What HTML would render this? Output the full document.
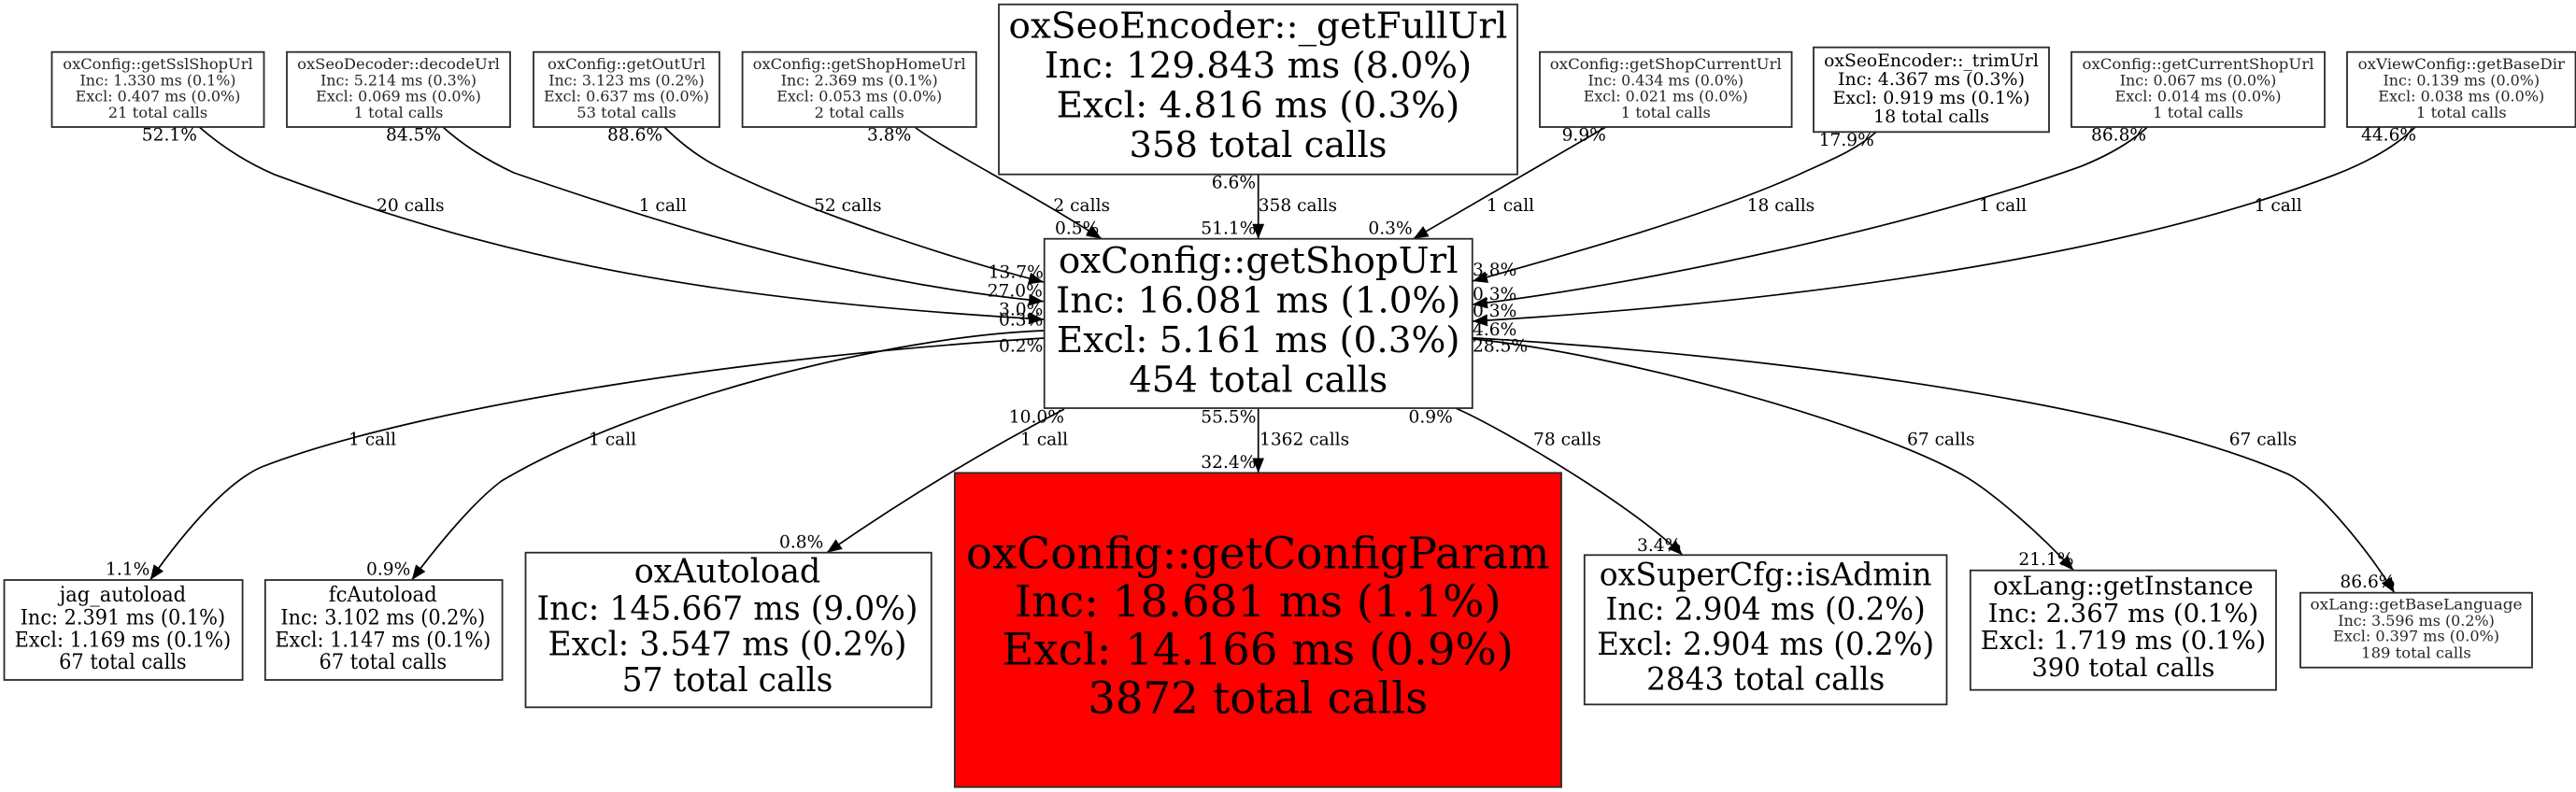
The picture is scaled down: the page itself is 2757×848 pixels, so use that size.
<!DOCTYPE html>
<html>
<head>
<meta charset="utf-8">
<title>oxConfig::getShopUrl call graph</title>
<style>
html,body{margin:0;padding:0;background:#fff;width:2757px;height:848px;overflow:hidden}
svg{display:block}
text{font-family:"DejaVu Serif","Liberation Serif",serif;fill:#000}
.e{fill:none;stroke:#000;stroke-width:1.7;marker-end:url(#a)}
.n{fill:#fff;stroke:#2a2a2a;stroke-width:1.8}
.l{font-size:18.6px}
.c text,.c{text-anchor:middle}
.s16{font-size:16px}.s16 text{fill:#262626}
.s185{font-size:18.5px}.s222{font-size:22.2px}.s27{font-size:27px}.s34{font-size:34px}.s355{font-size:35.5px}.s387{font-size:38.7px}.s47{font-size:47px}
</style>
</head>
<body>
<svg xmlns="http://www.w3.org/2000/svg" width="2757" height="848" viewBox="0 0 2757 848">
<defs>
<marker id="a" markerUnits="userSpaceOnUse" markerWidth="16" markerHeight="13" viewBox="0 0 15.5 12.4" refX="15.5" refY="6.2" orient="auto">
<path d="M0,0 L15.5,6.2 L0,12.4 Z" fill="#000"/>
</marker>
</defs>
<rect width="2757" height="848" fill="#fff"/>

<path class="e" d="M213.3,136 C235,155 262,173 293.3,186.7 C553,283 767,321 1117,342"/>
<path class="e" d="M474,136 C495,155 520,171 550,185 C740,250.5 917,302.7 1117,322.7"/>
<path class="e" d="M711,136 C730,155 750,170 775,182 C880,233 1037,282 1117,302"/>
<path class="e" d="M979,136 C1010,160 1100,205 1179,255.7"/>
<path class="e" d="M1346.7,187 L1346.7,255.7"/>
<path class="e" d="M1718.7,136 L1512.6,255.7"/>
<path class="e" d="M2008,141.3 C1985,162 1955,173 1925,187 C1825,232 1676,273 1576,301"/>
<path class="e" d="M2298.3,136 C2280,153 2255,167 2226.7,178.3 C2060,238 1776,302 1576,326"/>
<path class="e" d="M2585,136 C2565,156 2535,173 2500,186.7 C2250,283 1876,326 1576,344"/>

<path class="e" d="M1117.7,362 C818,380 450,434 280,500 C245,515 200,565 160.7,621"/>
<path class="e" d="M1117.7,354 C950,360 680,430 536.7,515 C510,535 475,575 440.7,621"/>
<path class="e" d="M1139,438 Q1010,505 885,591.7"/>
<path class="e" d="M1346.7,437 L1346.7,506.3"/>
<path class="e" d="M1558,437 C1610,460 1745,540 1800.8,594.3"/>
<path class="e" d="M1576,363 C1730,378 2000,452 2100,508.3 C2130,525 2182,570 2219.3,610.7"/>
<path class="e" d="M1576,361.7 C1850,378 2250,423 2446.7,506.7 C2480,521 2535,590 2562.7,634.7"/>

<rect class="n" x="55.5" y="55.7" width="227" height="80.3"/>
<rect class="n" x="307" y="55.7" width="239" height="80.3"/>
<rect class="n" x="571" y="55.7" width="199" height="80.3"/>
<rect class="n" x="794.6" y="55.7" width="250.2" height="80.3"/>
<rect class="n" x="1069" y="4.7" width="555" height="182"/>
<rect class="n" x="1117.7" y="255.7" width="458.1" height="181.3"/>
<rect class="n" x="1648" y="55.7" width="269.6" height="80.3"/>
<rect class="n" x="1941" y="50.7" width="252" height="90.6"/>
<rect class="n" x="2217" y="55.7" width="271" height="80.3"/>
<rect class="n" x="2512" y="55.7" width="244.5" height="80.3"/>
<rect class="n" x="4.5" y="621" width="255.1" height="107"/>
<rect class="n" x="283.8" y="621" width="253.8" height="107"/>
<rect class="n" x="562.5" y="591.7" width="434.3" height="165.6"/>
<rect class="n" x="1021.8" y="506.3" width="649.2" height="336.4" style="fill:#f00"/>
<rect class="n" x="1695.8" y="594.3" width="387.7" height="160"/>
<rect class="n" x="2108.8" y="610.7" width="327.2" height="128"/>
<rect class="n" x="2462" y="634.7" width="248" height="80"/>

<g class="c s16" lengthAdjust="spacingAndGlyphs">
<text x="169" y="74" textLength="203.4" lengthAdjust="spacingAndGlyphs">oxConfig::getSslShopUrl</text><text x="169" y="91.3" textLength="167" lengthAdjust="spacingAndGlyphs">Inc: 1.330 ms (0.1%)</text><text x="169" y="108.7" textLength="176.7" lengthAdjust="spacingAndGlyphs">Excl: 0.407 ms (0.0%)</text><text x="169" y="126" textLength="106.5" lengthAdjust="spacingAndGlyphs">21 total calls</text>
<text x="426.5" y="74" textLength="216.8" lengthAdjust="spacingAndGlyphs">oxSeoDecoder::decodeUrl</text><text x="426.5" y="91.3" textLength="167" lengthAdjust="spacingAndGlyphs">Inc: 5.214 ms (0.3%)</text><text x="426.5" y="108.7" textLength="176.7" lengthAdjust="spacingAndGlyphs">Excl: 0.069 ms (0.0%)</text><text x="426.5" y="126" textLength="95.7" lengthAdjust="spacingAndGlyphs">1 total calls</text>
<text x="670.5" y="74" textLength="169" lengthAdjust="spacingAndGlyphs">oxConfig::getOutUrl</text><text x="670.5" y="91.3" textLength="166.5" lengthAdjust="spacingAndGlyphs">Inc: 3.123 ms (0.2%)</text><text x="670.5" y="108.7" textLength="177" lengthAdjust="spacingAndGlyphs">Excl: 0.637 ms (0.0%)</text><text x="670.5" y="126" textLength="106.5" lengthAdjust="spacingAndGlyphs">53 total calls</text>
<text x="919.7" y="74" textLength="228" lengthAdjust="spacingAndGlyphs">oxConfig::getShopHomeUrl</text><text x="919.7" y="91.3" textLength="168" lengthAdjust="spacingAndGlyphs">Inc: 2.369 ms (0.1%)</text><text x="919.7" y="108.7" textLength="177" lengthAdjust="spacingAndGlyphs">Excl: 0.053 ms (0.0%)</text><text x="919.7" y="126" textLength="96" lengthAdjust="spacingAndGlyphs">2 total calls</text>
<text x="1782.8" y="74" textLength="248" lengthAdjust="spacingAndGlyphs">oxConfig::getShopCurrentUrl</text><text x="1782.8" y="91.3" textLength="166.5" lengthAdjust="spacingAndGlyphs">Inc: 0.434 ms (0.0%)</text><text x="1782.8" y="108.7" textLength="176" lengthAdjust="spacingAndGlyphs">Excl: 0.021 ms (0.0%)</text><text x="1782.8" y="126" textLength="96" lengthAdjust="spacingAndGlyphs">1 total calls</text>
<text x="2352.5" y="74" textLength="248" lengthAdjust="spacingAndGlyphs">oxConfig::getCurrentShopUrl</text><text x="2352.5" y="91.3" textLength="167.6" lengthAdjust="spacingAndGlyphs">Inc: 0.067 ms (0.0%)</text><text x="2352.5" y="108.7" textLength="178" lengthAdjust="spacingAndGlyphs">Excl: 0.014 ms (0.0%)</text><text x="2352.5" y="126" textLength="96.7" lengthAdjust="spacingAndGlyphs">1 total calls</text>
<text x="2634.3" y="74" textLength="221.4" lengthAdjust="spacingAndGlyphs">oxViewConfig::getBaseDir</text><text x="2634.3" y="91.3" textLength="167.6" lengthAdjust="spacingAndGlyphs">Inc: 0.139 ms (0.0%)</text><text x="2634.3" y="108.7" textLength="178" lengthAdjust="spacingAndGlyphs">Excl: 0.038 ms (0.0%)</text><text x="2634.3" y="126" textLength="96.7" lengthAdjust="spacingAndGlyphs">1 total calls</text>
<text x="2586" y="652.7" textLength="227" lengthAdjust="spacingAndGlyphs">oxLang::getBaseLanguage</text><text x="2586" y="670" textLength="167.6" lengthAdjust="spacingAndGlyphs">Inc: 3.596 ms (0.2%)</text><text x="2586" y="686.7" textLength="178" lengthAdjust="spacingAndGlyphs">Excl: 0.397 ms (0.0%)</text><text x="2586" y="704.3" textLength="117.6" lengthAdjust="spacingAndGlyphs">189 total calls</text>
</g>
<g class="c s185">
<text x="2067" y="71" textLength="229.7" lengthAdjust="spacingAndGlyphs">oxSeoEncoder::_trimUrl</text><text x="2067" y="91" textLength="200" lengthAdjust="spacingAndGlyphs">Inc: 4.367 ms (0.3%)</text><text x="2067" y="111" textLength="211" lengthAdjust="spacingAndGlyphs">Excl: 0.919 ms (0.1%)</text><text x="2067" y="131" textLength="124" lengthAdjust="spacingAndGlyphs">18 total calls</text>
</g>
<g class="c s222">
<text x="131.4" y="644" textLength="135.2" lengthAdjust="spacingAndGlyphs">jag_autoload</text><text x="131.4" y="668.3" textLength="219.4" lengthAdjust="spacingAndGlyphs">Inc: 2.391 ms (0.1%)</text><text x="131.4" y="692.3" textLength="231.5" lengthAdjust="spacingAndGlyphs">Excl: 1.169 ms (0.1%)</text><text x="131.4" y="716" textLength="136.5" lengthAdjust="spacingAndGlyphs">67 total calls</text>
<text x="409.8" y="644" textLength="116" lengthAdjust="spacingAndGlyphs">fcAutoload</text><text x="409.8" y="668.3" textLength="218.8" lengthAdjust="spacingAndGlyphs">Inc: 3.102 ms (0.2%)</text><text x="409.8" y="692.3" textLength="230.9" lengthAdjust="spacingAndGlyphs">Excl: 1.147 ms (0.1%)</text><text x="409.8" y="716" textLength="136.5" lengthAdjust="spacingAndGlyphs">67 total calls</text>
</g>
<g class="c s27">
<text x="2272.4" y="636.7" textLength="278.6" lengthAdjust="spacingAndGlyphs">oxLang::getInstance</text><text x="2272.4" y="666" textLength="289.6" lengthAdjust="spacingAndGlyphs">Inc: 2.367 ms (0.1%)</text><text x="2272.4" y="695" textLength="305.5" lengthAdjust="spacingAndGlyphs">Excl: 1.719 ms (0.1%)</text><text x="2272.4" y="724" textLength="196" lengthAdjust="spacingAndGlyphs">390 total calls</text>
</g>
<g class="c s34">
<text x="1889.7" y="626.7" textLength="355.8" lengthAdjust="spacingAndGlyphs">oxSuperCfg::isAdmin</text><text x="1889.7" y="663.3" textLength="342.3" lengthAdjust="spacingAndGlyphs">Inc: 2.904 ms (0.2%)</text><text x="1889.7" y="701" textLength="361" lengthAdjust="spacingAndGlyphs">Excl: 2.904 ms (0.2%)</text><text x="1889.7" y="738.3" textLength="255.2" lengthAdjust="spacingAndGlyphs">2843 total calls</text>
</g>
<g class="c s355">
<text x="778.5" y="623.3" textLength="199.6" lengthAdjust="spacingAndGlyphs">oxAutoload</text><text x="778.5" y="663.3" textLength="408" lengthAdjust="spacingAndGlyphs">Inc: 145.667 ms (9.0%)</text><text x="778.5" y="701.7" textLength="384" lengthAdjust="spacingAndGlyphs">Excl: 3.547 ms (0.2%)</text><text x="778.5" y="740" textLength="225.8" lengthAdjust="spacingAndGlyphs">57 total calls</text>
</g>
<g class="c s387">
<text x="1346.5" y="40.7" textLength="534" lengthAdjust="spacingAndGlyphs">oxSeoEncoder::_getFullUrl</text><text x="1346.5" y="83.2" textLength="457.5" lengthAdjust="spacingAndGlyphs">Inc: 129.843 ms (8.0%)</text><text x="1346.5" y="125.7" textLength="431.7" lengthAdjust="spacingAndGlyphs">Excl: 4.816 ms (0.3%)</text><text x="1346.5" y="168.2" textLength="276" lengthAdjust="spacingAndGlyphs">358 total calls</text>
<text x="1346.7" y="292" textLength="427.7" lengthAdjust="spacingAndGlyphs">oxConfig::getShopUrl</text><text x="1346.7" y="334.5" textLength="433.4" lengthAdjust="spacingAndGlyphs">Inc: 16.081 ms (1.0%)</text><text x="1346.7" y="377" textLength="431.7" lengthAdjust="spacingAndGlyphs">Excl: 5.161 ms (0.3%)</text><text x="1346.7" y="419.5" textLength="277" lengthAdjust="spacingAndGlyphs">454 total calls</text>
</g>
<g class="c s47">
<text x="1346.2" y="608.3" textLength="624.6" lengthAdjust="spacingAndGlyphs">oxConfig::getConfigParam</text><text x="1346.2" y="660" textLength="521" lengthAdjust="spacingAndGlyphs">Inc: 18.681 ms (1.1%)</text><text x="1346.2" y="711.7" textLength="547.6" lengthAdjust="spacingAndGlyphs">Excl: 14.166 ms (0.9%)</text><text x="1346.2" y="763.3" textLength="364" lengthAdjust="spacingAndGlyphs">3872 total calls</text>
</g>

<g class="l">
<text x="403" y="226">20 calls</text>
<text x="683.7" y="226">1 call</text>
<text x="871" y="226">52 calls</text>
<text x="1127.4" y="226">2 calls</text>
<text x="1346.7" y="226">358 calls</text>
<text x="1591" y="226">1 call</text>
<text x="1869.7" y="226">18 calls</text>
<text x="2118" y="226">1 call</text>
<text x="2412.6" y="226">1 call</text>
<text x="373" y="476.7">1 call</text>
<text x="630" y="476.7">1 call</text>
<text x="1092" y="476.7">1 call</text>
<text x="1348" y="476.7">1362 calls</text>
<text x="1641" y="476.7">78 calls</text>
<text x="2041" y="476.7">67 calls</text>
<text x="2385.7" y="476.7">67 calls</text>

<text x="151.8" y="150.7">52.1%</text>
<text x="413" y="150.7">84.5%</text>
<text x="650" y="150.7">88.6%</text>
<text x="928" y="150.7">3.8%</text>
<text x="1296.8" y="201.7">6.6%</text>
<text x="1129" y="250.7">0.5%</text>
<text x="1285.3" y="250.7">51.1%</text>
<text x="1464.4" y="250.7">0.3%</text>
<text x="1671.6" y="150.7">9.9%</text>
<text x="1946.7" y="156">17.9%</text>
<text x="2238" y="150.7">86.8%</text>
<text x="2527" y="150.7">44.6%</text>
<text x="1057.7" y="297.7">13.7%</text>
<text x="1056.7" y="317.7">27.0%</text>
<text x="1069" y="337.3">3.0%</text>
<text x="1069" y="348.3">0.3%</text>
<text x="1069" y="376.7">0.2%</text>
<text x="1576" y="295">3.8%</text>
<text x="1576" y="321">0.3%</text>
<text x="1576" y="339">0.3%</text>
<text x="1576" y="359">4.6%</text>
<text x="1576" y="376.7">28.5%</text>
<text x="1079.8" y="452.3">10.0%</text>
<text x="1285.3" y="452.3">55.5%</text>
<text x="1507.5" y="452.3">0.9%</text>
<text x="1285.3" y="501">32.4%</text>
<text x="1752" y="590">3.4%</text>
<text x="113" y="615.7">1.1%</text>
<text x="392" y="615.7">0.9%</text>
<text x="834" y="586.7">0.8%</text>
<text x="2160.4" y="605">21.1%</text>
<text x="2504.4" y="629">86.6%</text>
</g>
</svg>
</body>
</html>
